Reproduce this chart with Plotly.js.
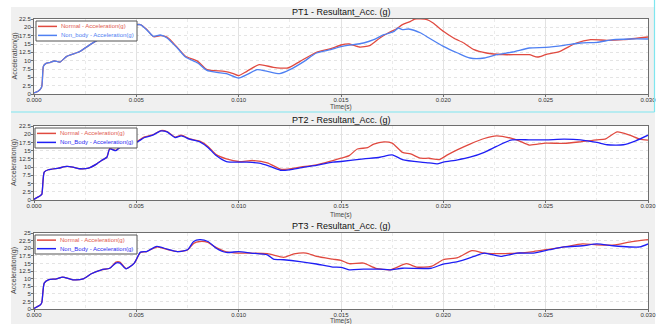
<!DOCTYPE html>
<html>
<head>
<meta charset="utf-8">
<script src="https://cdn.plot.ly/plotly-3.0.1.min.js"></script>
<style>html,body{margin:0;padding:0;background:#fff;}#chart{width:668px;height:324px;}</style>
</head>
<body>
<div id="chart"></div>
<script>
// ---------- DATA ----------
const panelTitles = ["PT1 - Resultant_Acc. (g)", "PT2 - Resultant_Acc. (g)", "PT3 - Resultant_Acc. (g)"];
const normalNames = ["Normal - Acceleration(g)", "Normal - Acceleration(g)", "Normal - Acceleration(g)"];
const bodyNames = ["Non_body - Acceleration(g)", "Non_Body - Acceleration(g)", "Non_Body - Acceleration(g)"];
const xTitle = "Time(s)";
const yTitle = "Acceleration(g)";
const yMax = [22.5, 22.5, 25];

// PT1
const pt1BodyT = [0,0.0002,0.00037,0.00046,0.00057,0.0008,0.001,0.00127,0.0016,0.002,0.00225,0.00274,0.003,0.0035,0.004,0.0045,0.005,0.0052,0.0055,0.00584,0.00617,0.0065,0.007,0.0074,0.008,0.00845,0.00894,0.0094,0.010,0.0104,0.0109,0.0114,0.012,0.0125,0.0132,0.0138,0.0145,0.015,0.0161,0.0166,0.0171,0.0176,0.0178,0.018,0.0183,0.0189,0.0193,0.020,0.0207,0.0213,0.022,0.0226,0.0234,0.0242,0.025,0.0259,0.0267,0.0275,0.0283,0.0291,0.030];
const pt1BodyG = [0.3,0.8,2.0,8.3,9.1,9.5,9.9,9.6,11.3,12.2,12.8,14.8,15.8,17.5,19.0,20.2,20.8,20.8,19.3,17.3,17.7,16.8,13.8,11.1,9.3,7.1,6.5,6.1,4.8,5.8,7.3,6.8,6.1,7.3,9.8,12.3,13.3,14.2,15.3,16.3,17.8,18.8,19.8,19.3,19.5,18.3,16.8,14.3,12.3,10.8,10.8,11.8,12.6,13.8,14.0,14.6,15.3,15.5,16.3,16.5,16.5];
const pt1NormT = [0,0.0002,0.00037,0.00046,0.00057,0.0008,0.001,0.00127,0.0016,0.002,0.00225,0.00274,0.003,0.0035,0.004,0.0045,0.005,0.0052,0.0055,0.00584,0.0062,0.0065,0.007,0.0074,0.008,0.00845,0.0093,0.0097,0.010,0.0104,0.011,0.0117,0.0124,0.013,0.0138,0.0145,0.015,0.0154,0.0159,0.0164,0.0169,0.0173,0.0177,0.018,0.0184,0.0186,0.0192,0.0195,0.020,0.0205,0.021,0.0215,0.0221,0.0229,0.0236,0.0242,0.0246,0.025,0.0257,0.0265,0.0272,0.028,0.0288,0.030];
const pt1NormG = [0.3,0.8,2.0,8.3,9.1,9.5,9.9,9.6,11.3,12.2,12.8,14.8,15.8,17.5,19.0,20.2,20.8,20.8,19.4,17.2,17.5,17.1,14.0,11.3,9.8,7.3,6.8,6.2,5.5,6.8,8.8,8.0,7.8,9.8,12.5,13.6,14.7,15.0,14.1,14.5,16.8,18.3,19.5,20.8,21.8,22.5,22.3,21.3,18.8,16.8,15.3,13.3,12.3,11.8,11.8,11.8,11.1,11.8,12.8,15.3,16.3,16.1,16.3,17.1];

// PT2
const pt2BodyT = [0,0.0003,0.00038,0.0005,0.0007,0.0012,0.0016,0.0019,0.00225,0.00266,0.00307,0.0033,0.00356,0.0037,0.004,0.0042,0.0046,0.005,0.0054,0.0058,0.0062,0.0065,0.0069,0.0072,0.0076,0.0081,0.0085,0.0089,0.0094,0.010,0.0104,0.011,0.0115,0.0121,0.0125,0.0132,0.0138,0.0146,0.015,0.0161,0.0169,0.0175,0.018,0.0189,0.0193,0.0197,0.020,0.0207,0.0213,0.022,0.0226,0.0233,0.0242,0.025,0.0259,0.0267,0.0275,0.028,0.0288,0.0294,0.030];
const pt2BodyG = [0.2,1.3,1.7,8.5,9.2,9.7,10.2,10.0,9.5,9.7,11.0,12.0,13.0,15.5,15.0,16.0,17.0,17.5,19.0,19.7,21.0,20.7,19.0,19.5,18.5,17.7,16.0,13.5,11.7,11.5,11.5,11.2,10.3,9.0,9.2,10.0,10.5,11.5,11.7,12.5,13.0,13.7,12.3,11.5,11.3,11.0,11.5,12.2,13.0,14.5,16.3,18.2,18.3,18.3,18.5,18.3,17.5,16.8,16.8,18.0,19.7];
const pt2NormT = [0,0.0003,0.00038,0.0005,0.0007,0.0012,0.0016,0.0019,0.00225,0.00266,0.00307,0.0033,0.00356,0.0037,0.004,0.0042,0.0046,0.005,0.0054,0.0058,0.0062,0.0065,0.0069,0.0072,0.0076,0.0081,0.0085,0.0089,0.0094,0.010,0.0107,0.0114,0.0121,0.013,0.0138,0.0146,0.015,0.0154,0.0158,0.0163,0.0166,0.0171,0.0175,0.018,0.0184,0.0189,0.0193,0.0198,0.0202,0.0207,0.0213,0.022,0.0226,0.0233,0.0237,0.0242,0.025,0.0259,0.0267,0.0275,0.0279,0.0285,0.0291,0.0296,0.030];
const pt2NormG = [0.2,1.3,1.7,8.5,9.2,9.7,10.2,10.0,9.5,9.7,11.0,12.0,13.0,15.6,15.1,16.1,17.1,17.7,19.2,19.8,21.1,20.8,19.1,19.7,18.6,17.9,16.3,13.8,12.5,11.7,12.0,11.3,9.3,10.0,10.7,12.0,12.7,13.5,15.5,15.9,17.0,17.7,17.3,14.5,14.0,12.7,12.7,12.3,13.7,15.3,17.0,18.7,19.5,18.8,18.0,16.7,17.3,17.2,17.7,18.3,18.5,20.7,19.7,18.5,18.2];

// PT3
const pt3BodyT = [0,0.0003,0.00038,0.0005,0.0007,0.0011,0.0014,0.0019,0.0024,0.0028,0.0033,0.0037,0.004,0.0042,0.0045,0.0049,0.0052,0.0055,0.006,0.0065,0.007,0.0075,0.0078,0.0081,0.0085,0.0089,0.0094,0.010,0.0106,0.0114,0.0117,0.0122,0.013,0.0138,0.0146,0.015,0.0154,0.0161,0.0169,0.0174,0.018,0.0194,0.020,0.0207,0.0215,0.022,0.0228,0.0236,0.0244,0.0252,0.0259,0.0268,0.0275,0.0283,0.0291,0.0296,0.030];
const pt3BodyG = [0.2,1.3,2.1,8.5,9.6,9.9,10.5,9.6,9.9,11.6,12.9,13.4,15.1,15.1,13.2,15.1,18.7,18.9,20.6,19.7,18.9,19.5,22.2,22.8,22.2,20.0,18.6,18.9,18.4,17.8,16.4,16.2,15.6,14.8,13.8,13.7,12.9,13.1,13.1,12.9,13.4,13.4,14.8,15.6,17.3,18.4,17.3,18.4,18.4,19.5,20.4,20.8,21.4,20.8,20.4,20.4,21.4];
const pt3NormT = [0,0.0003,0.00038,0.0005,0.0007,0.0011,0.0014,0.0019,0.0024,0.0028,0.0033,0.0037,0.004,0.0042,0.0045,0.0049,0.0052,0.0055,0.006,0.0065,0.007,0.0075,0.0078,0.0081,0.0085,0.0088,0.0094,0.010,0.0114,0.0122,0.0127,0.0133,0.0138,0.0146,0.015,0.0154,0.0161,0.0167,0.0174,0.0182,0.0187,0.0194,0.020,0.0207,0.0214,0.022,0.0228,0.0236,0.0244,0.0252,0.0259,0.0268,0.0275,0.0284,0.0291,0.030];
const pt3NormG = [0.2,1.3,2.1,8.5,9.6,9.9,10.5,9.6,9.9,11.6,12.9,13.4,15.4,15.4,13.3,15.1,18.6,18.9,20.4,19.6,18.9,19.4,21.6,22.2,21.9,20.6,18.8,18.4,18.2,17.0,18.1,18.4,17.3,16.4,16.0,14.9,15.1,13.4,12.9,14.9,13.8,14.0,16.2,16.9,19.2,18.4,18.2,18.4,18.9,19.7,20.4,21.4,21.1,21.1,22.0,22.8];

// ---------- STYLE ----------
const W = 668, H = 324;
const px = v => v / W, py = v => 1 - v / H;
const FONT = "Liberation Sans, Arial, sans-serif";
const redC = ["#e04a40", "#e04a40", "#e04a40"];
const blueC = ["#4f80f2", "#1f1ff5", "#1f1ff5"];
const blueText = ["#4f80f2", "#2a2af0", "#2a2af0"];
// plot boxes in pixels [left, right, top, bottom]
const boxes = [[34, 648, 19, 94], [34, 648, 126, 200], [34, 648, 233, 309]];
const titleY = [12, 120, 226];
const xTitleY = [107, 214.5, 321];
const legBox = [[36, 137, 21, 41], [35, 137, 128, 148], [35, 137, 235, 254]];

const series = [
  [pt1NormT, pt1NormG, pt1BodyT, pt1BodyG],
  [pt2NormT, pt2NormG, pt2BodyT, pt2BodyG],
  [pt3NormT, pt3NormG, pt3BodyT, pt3BodyG]
];

const traces = [];
const layout = {
  width: W, height: H,
  margin: {l: 0, r: 0, t: 0, b: 0},
  paper_bgcolor: "#ffffff", plot_bgcolor: "#ffffff",
  showlegend: false,
  font: {family: FONT, size: 6, color: "#333"},
  shapes: [], annotations: []
};

// panel backgrounds
layout.shapes.push({type: "rect", xref: "paper", yref: "paper", x0: px(11), x1: px(655), y0: py(324), y1: py(7), fillcolor: "#f0f0f0", line: {width: 0}, layer: "below"});
layout.shapes.push({type: "line", xref: "paper", yref: "paper", x0: px(654.5), x1: px(654.5), y0: py(112), y1: py(0), line: {color: "#7fe6ef", width: 1.2}, layer: "above"});
layout.shapes.push({type: "line", xref: "paper", yref: "paper", x0: px(11), x1: px(654.5), y0: py(112), y1: py(112), line: {color: "#7fe6ef", width: 1.2}, layer: "above"});

for (let i = 0; i < 3; i++) {
  const s = i === 0 ? "" : String(i + 1);
  const b = boxes[i];
  const xa = "xaxis" + s, ya = "yaxis" + s;
  // white plot area
  layout.shapes.push({type: "rect", xref: "paper", yref: "paper", x0: px(b[0]), x1: px(b[1]), y0: py(b[3]), y1: py(b[2]), fillcolor: "#ffffff", line: {width: 0}, layer: "below"});
  layout[xa] = {
    domain: [px(b[0]), px(b[1])], anchor: "y" + s, range: [0, 0.03],
    tick0: 0, dtick: 0.005, tickformat: ".3f",
    showgrid: true, gridcolor: "#e2e2e2", gridwidth: 1,
    minor: {dtick: 0.0025, showgrid: true, gridcolor: "#ebebeb", griddash: "dot"},
    showline: true, mirror: true, linecolor: "#6e6e6e", linewidth: 1,
    ticks: "outside", ticklen: 2, tickcolor: "#6e6e6e", ticklabelstandoff: -2,
    tickfont: {family: FONT, size: 6, color: "#333"}, zeroline: false, fixedrange: true
  };
  layout[ya] = {
    domain: [py(b[3]), py(b[2])], anchor: "x" + s, range: [0, yMax[i]],
    tick0: 0, dtick: 2.5,
    showgrid: true, gridcolor: "#e4e4e4", griddash: "dot", gridwidth: 1,
    showline: true, mirror: true, linecolor: "#6e6e6e", linewidth: 1,
    ticks: "outside", ticklen: 2, tickcolor: "#6e6e6e", ticklabelstandoff: -1,
    tickfont: {family: FONT, size: 6, color: "#333"}, zeroline: false, fixedrange: true
  };
  const d = series[i];
  traces.push({x: d[0], y: d[1], xaxis: "x" + s, yaxis: "y" + s, type: "scatter", mode: "lines", name: normalNames[i], line: {color: redC[i], width: 1.3, shape: "spline", smoothing: 0.6}});
  traces.push({x: d[2], y: d[3], xaxis: "x" + s, yaxis: "y" + s, type: "scatter", mode: "lines", name: bodyNames[i], line: {color: blueC[i], width: 1.3, shape: "spline", smoothing: 0.6}});

  // titles
  layout.annotations.push({xref: "paper", yref: "paper", x: px(341), y: py(titleY[i]), text: panelTitles[i], showarrow: false, xanchor: "center", yanchor: "middle", font: {family: FONT, size: 9, color: "#111"}});
  layout.annotations.push({xref: "paper", yref: "paper", x: px(341), y: py(xTitleY[i]), text: xTitle, showarrow: false, xanchor: "center", yanchor: "middle", font: {family: FONT, size: 6.5, color: "#444"}});
  layout.annotations.push({xref: "paper", yref: "paper", x: px(14), y: py((b[2] + b[3]) / 2), text: yTitle, textangle: -90, showarrow: false, xanchor: "center", yanchor: "middle", font: {family: FONT, size: 7, color: "#444"}});

  // compact legend box
  const L = legBox[i];
  const r1 = L[2] + (L[3] - L[2]) * 0.27, r2 = L[2] + (L[3] - L[2]) * 0.72;
  layout.shapes.push({type: "rect", xref: "paper", yref: "paper", x0: px(L[0]), x1: px(L[1]), y0: py(L[3]), y1: py(L[2]), fillcolor: "#ffffff", line: {color: "#555", width: 1}, layer: "above"});
  layout.shapes.push({type: "line", xref: "paper", yref: "paper", x0: px(L[0] + 2), x1: px(L[0] + 21), y0: py(r1), y1: py(r1), line: {color: redC[i], width: 1.5}, layer: "above"});
  layout.shapes.push({type: "line", xref: "paper", yref: "paper", x0: px(L[0] + 2), x1: px(L[0] + 21), y0: py(r2), y1: py(r2), line: {color: blueC[i], width: 1.5}, layer: "above"});
  layout.annotations.push({xref: "paper", yref: "paper", x: px(L[0] + 23), y: py(r1), text: normalNames[i], showarrow: false, xanchor: "left", yanchor: "middle", font: {family: FONT, size: 6, color: "#e05a50"}});
  layout.annotations.push({xref: "paper", yref: "paper", x: px(L[0] + 23), y: py(r2), text: bodyNames[i], showarrow: false, xanchor: "left", yanchor: "middle", font: {family: FONT, size: 6, color: blueText[i]}});
}

Plotly.newPlot("chart", traces, layout, {displayModeBar: false, staticPlot: true});
</script>
</body>
</html>
